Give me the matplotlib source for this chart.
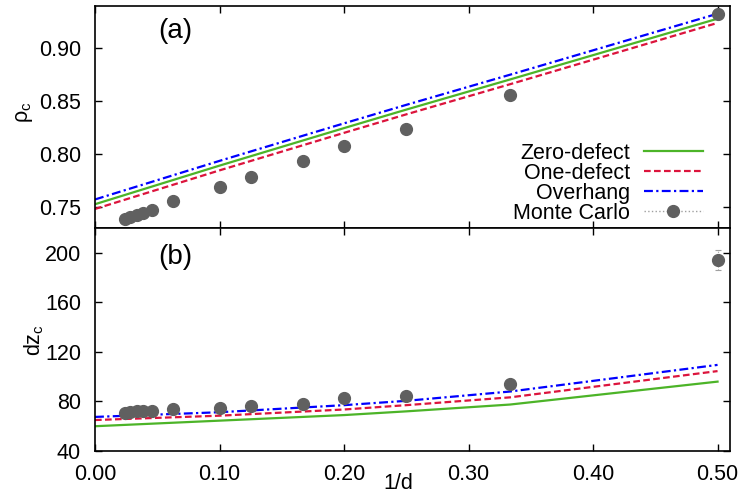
import numpy as np
import matplotlib
matplotlib.use("Agg")
import matplotlib.pyplot as plt
from matplotlib.lines import Line2D

plt.rcParams['font.family'] = ['Liberation Sans', 'DejaVu Sans']
plt.rcParams['font.size'] = 15.5
plt.rcParams['mathtext.fontset'] = 'custom'
plt.rcParams['mathtext.rm'] = 'Liberation Sans'

# Monte Carlo data, x = 1/d
d_mc = np.array([42, 36, 30, 26, 22, 16, 10, 8, 6, 5, 4, 3, 2])
x_mc = 1.0 / d_mc
rho_mc = [0.7385, 0.7405, 0.7425, 0.7445, 0.747, 0.7555, 0.769, 0.778, 0.793, 0.808, 0.824, 0.856, 0.932]
rho_err = [0.001, 0.001, 0.001, 0.001, 0.001, 0.0015, 0.002, 0.003, 0.003, 0.002, 0.002, 0.002, 0.003]
dz_mc = [71, 71.5, 72.5, 72.5, 72, 73.8, 75, 76.3, 78, 82.5, 84.6, 94, 194]
dz_err = [3, 3, 3, 3, 3, 3, 3, 4, 4, 4, 3, 3, 8]

# theory curves
x_th = [0.0, 0.1, 0.2, 0.25, 1/3, 0.5]
rho_zero = [0.7525, 0.789, 0.8245, 0.842, 0.8705, 0.928]
rho_one = [0.748, 0.7845, 0.82, 0.8375, 0.866, 0.924]
rho_over = [0.757, 0.7935, 0.829, 0.8465, 0.875, 0.9327]
dz_zero = [60, 64.5, 69, 72, 77.5, 96]
dz_one = [65, 68.5, 73.5, 77, 83.3, 104.5]
dz_over = [67.5, 71.3, 77, 80.5, 88, 109.5]

c_zero = '#4cb428'
c_one = '#dc143c'
c_over = '#0000ff'
c_mc = '#606060'

fig = plt.figure(figsize=(7.4, 4.95), dpi=100)
ax1 = fig.add_axes([95/740, 1 - 228/495, 635/740, 222/495])
ax2 = fig.add_axes([95/740, 1 - 451/495, 635/740, 223/495])


def draw(ax, yz, yo, yv, ymc, yerr):
    l1, = ax.plot(x_th, yz, color=c_zero, lw=1.6, ls='-', label='Zero-defect')
    l2, = ax.plot(x_th, yo, color=c_one, lw=1.6, ls=(0, (3, 1.5)), label='One-defect')
    l3, = ax.plot(x_th, yv, color=c_over, lw=1.6, ls=(0, (4, 1.5, 1, 1.5)), label='Overhang')
    eb = ax.errorbar(x_mc, ymc, yerr=yerr, fmt='o', color=c_mc, ms=8.5,
                     ecolor='#a0a0a0', elinewidth=0.8, capsize=2.5, capthick=0.8, zorder=5)
    eb[2][0].set_linestyle(':')
    return [l1, l2, l3]


handles = draw(ax1, rho_zero, rho_one, rho_over, rho_mc, rho_err)
draw(ax2, dz_zero, dz_one, dz_over, dz_mc, dz_err)
handles.append(Line2D([], [], color='#a0a0a0', ls=':', lw=1, marker='o', ms=8.5,
                      markerfacecolor=c_mc, markeredgecolor=c_mc))
labels = ['Zero-defect', 'One-defect', 'Overhang', 'Monte Carlo']

for ax in (ax1, ax2):
    ax.set_xlim(0, 0.51)
    ax.set_xticks([0.0, 0.1, 0.2, 0.3, 0.4, 0.5])
    ax.tick_params(direction='in', top=True, right=True, length=5, width=1)
    ax.tick_params(axis='y', pad=10)
    ax.tick_params(axis='x', pad=9)
    for s in ax.spines.values():
        s.set_linewidth(1.2)

ax1.set_ylim(0.73, 0.94)
ax1.set_yticks([0.75, 0.80, 0.85, 0.90])
ax1.set_yticklabels(['0.75', '0.80', '0.85', '0.90'])
ax1.tick_params(labelbottom=False)

ax2.set_ylim(40, 220)
ax2.set_yticks([40, 80, 120, 160, 200])
ax2.set_xticklabels(['0.00', '0.10', '0.20', '0.30', '0.40', '0.50'])

ax1.set_ylabel('ρ$_{\\rm c}$')
ax1.yaxis.set_label_coords(-0.095, 0.52)
ax2.set_ylabel('dz$_{\\rm c}$')
ax2.yaxis.set_label_coords(-0.077, 0.50)
ax2.set_xlabel('1/d')
ax2.xaxis.set_label_coords(0.477, -0.098)

ax1.text(0.126, 0.888, '(a)', transform=ax1.transAxes, ha='center', va='center', fontsize=20)
ax2.text(0.127, 0.87, '(b)', transform=ax2.transAxes, ha='center', va='center', fontsize=20)

ax1.legend(handles, labels, loc='lower right', bbox_to_anchor=(0.957, 0.02),
           frameon=False, markerfirst=False, handlelength=2.74, handletextpad=0.65,
           labelspacing=-0.05, borderpad=0, borderaxespad=0)

fig.savefig('out.png', dpi=100)
